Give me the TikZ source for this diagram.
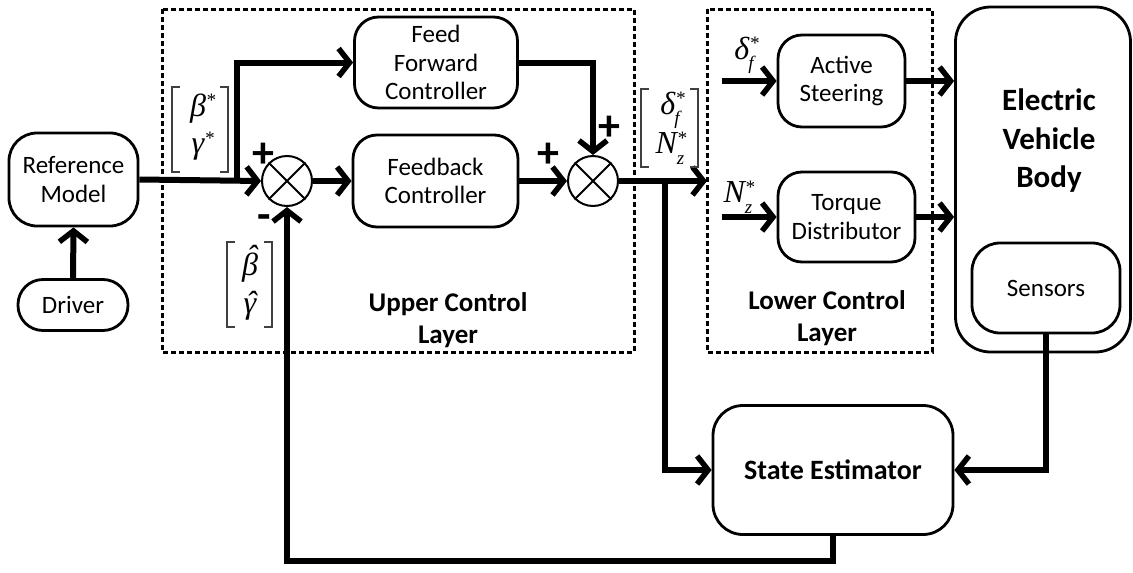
\documentclass[tikz,border=0pt]{standalone}
\usepackage{fontspec}
\setmainfont{Carlito}
\newfontfamily\tnr{Liberation Serif}
\usetikzlibrary{arrows.meta}

% superscript star and optional subscript stacked on the right of a symbol
\newcommand{\supsub}[2]{\rlap{\raisebox{0.3em}{\fontsize{19}{19}\selectfont #1}}\raisebox{-0.32em}{\fontsize{19}{19}\selectfont #2}}
% circumflex placed over an italic symbol
\newcommand{\hatted}[3]{\setbox0=\hbox{#1}\rlap{\hbox to \wd0{\hss\kern#3\raisebox{#2}[0pt][0pt]{\char"02C6}\hss}}\box0}

\begin{document}
\begin{tikzpicture}[x=1pt,y=-1pt,
  blk/.style={draw, line width=2.8pt, rounded corners=24pt, align=center,
    font=\fontsize{25}{28.5}\selectfont, inner sep=0pt},
  flow/.style={line width=6pt, -{Straight Barb[length=11pt,width=28pt,line width=5.5pt 0 0]}},
  layer/.style={draw, line width=3pt, dash pattern=on 5pt off 3pt},
  sumc/.style={draw, circle, line width=2pt, minimum size=50pt, inner sep=0pt},
  cross/.style={line width=2pt},
  bold/.style={font=\fontsize{27}{32}\selectfont\bfseries, align=center, inner sep=0pt},
  sgn/.style={font=\fontsize{44}{44}\selectfont\bfseries, inner sep=0pt},
  mth/.style={font=\fontsize{32}{32}\selectfont\tnr\itshape, inner sep=0pt},
  brk/.style={line width=1.2pt, draw=black!75}
]
\useasboundingbox (0,0) rectangle (1133,573);

% layer frames
\draw[layer] (162,9) rectangle (634,352);
\draw[layer] (707,9) rectangle (932,352);

% blocks
\node[blk, rounded corners=28pt, minimum width=129pt, minimum height=93pt] (ref) at (73.5,179.5) {Reference\\Model};
\node[blk, rounded corners=25pt, minimum width=110pt, minimum height=51pt] (drv) at (73,305) {Driver};
\node[blk, minimum width=163pt, minimum height=91pt] (ff) at (436,62.5) {Feed\\Forward\\Controller};
\node[blk, minimum width=165pt, minimum height=92pt] (fb) at (435.5,181) {Feedback\\Controller};
\node[blk, minimum width=127pt, minimum height=92pt] (as) at (841.5,81) {Active\\Steering};
\node[blk, minimum width=137pt, minimum height=90pt] (td) at (846.5,217) {Torque\\Distributor};
\node[draw, line width=2.8pt, rounded corners=35pt, minimum width=175pt, minimum height=345pt, inner sep=0pt] (ev) at (1043,179.5) {};
\node[font=\fontsize{31}{38.5}\selectfont\bfseries, align=center, inner sep=0pt] (evt) at (1049,141) {Electric\\Vehicle\\Body};
\node[blk, rounded corners=28pt, minimum width=148pt, minimum height=90pt] (sen) at (1046,288) {Sensors};
\node[blk, rounded corners=30pt, minimum width=240pt, minimum height=129pt,
  font=\fontsize{28}{32}\selectfont\bfseries] (se) at (833,470) {State Estimator};

% summing junctions
\node[sumc] (s1) at (287,181) {};
\draw[cross] (s1.north west) -- (s1.south east) (s1.north east) -- (s1.south west);
\node[sumc] (s2) at (593,181) {};
\draw[cross] (s2.north west) -- (s2.south east) (s2.north east) -- (s2.south west);

% signs
\node[sgn] (p1) at (263,155) {+};
\node[sgn] (m1) at (264,222) {-};
\node[sgn] (p2) at (548,155) {+};
\node[sgn] (p3) at (609,128) {+};

% layer titles
\node[bold] (ucl) at (448,320) {Upper Control\\Layer};
\node[bold] (lcl) at (827,318) {Lower Control\\Layer};

% connection points
\coordinate (br1) at (237,181);
\coordinate (br2) at (665,181);
\coordinate (lin) at (707,181);
\coordinate (din) at (722,81);
\coordinate (nin) at (722,217);

% signal flow
\draw[flow] (drv.north) -- (ref.south);
\draw[flow] (ref.east) -- (s1.west);
\draw[flow] (br1) |- (ff.west);
\draw[flow] (s1.east) -- (fb.west);
\draw[flow] (fb.east) -- (s2.west);
\draw[flow] (ff.east) -| (s2.north);
\draw[flow] (s2.east) -- (lin);
\draw[flow] (br2) |- (se.west);
\draw[flow] (din) -- (as.west);
\draw[flow] (nin) -- (td.west);
\draw[flow] (as.east) -- (as.east -| ev.west);
\draw[flow] (td.east) -- (td.east -| ev.west);
\draw[flow] (sen.south) |- (se.east);
\draw[flow] (se.south) -- ++(0,25) -| (s1.south);

% reference vector
\draw[brk] (180,87) -| (172,172) -- (180,172);
\draw[brk] (220,87) -| (228,172) -- (220,172);
\node[mth] (bref) at (198,110) {β\supsub{*}{}};
\node[mth] (gref) at (198,148) {γ\supsub{*}{}};

% estimated vector
\draw[brk] (235,242) -| (227,327) -- (235,327);
\draw[brk] (264,242) -| (272,327) -- (264,327);
\node[mth] (best) at (250,268) {\hatted{β}{0.26em}{0.12em}};
\node[mth] (gest) at (250,310) {\hatted{γ}{0.02em}{0.08em}};

% actuator command vector
\draw[brk] (649,89) -| (641,167) -- (649,167);
\draw[brk] (690,89) -| (698,167) -- (690,167);
\node[mth] (dcmd) at (670,110) {δ\supsub{*}{\kern-1pt f}};
\node[mth] (ncmd) at (670,148) {N\supsub{*}{z}};

% actuator inputs
\node[mth] (dlab) at (744,55) {δ\supsub{*}{\kern-1pt f}};
\node[mth] (nlab) at (738,197) {N\supsub{*}{z}};
\end{tikzpicture}
\end{document}
